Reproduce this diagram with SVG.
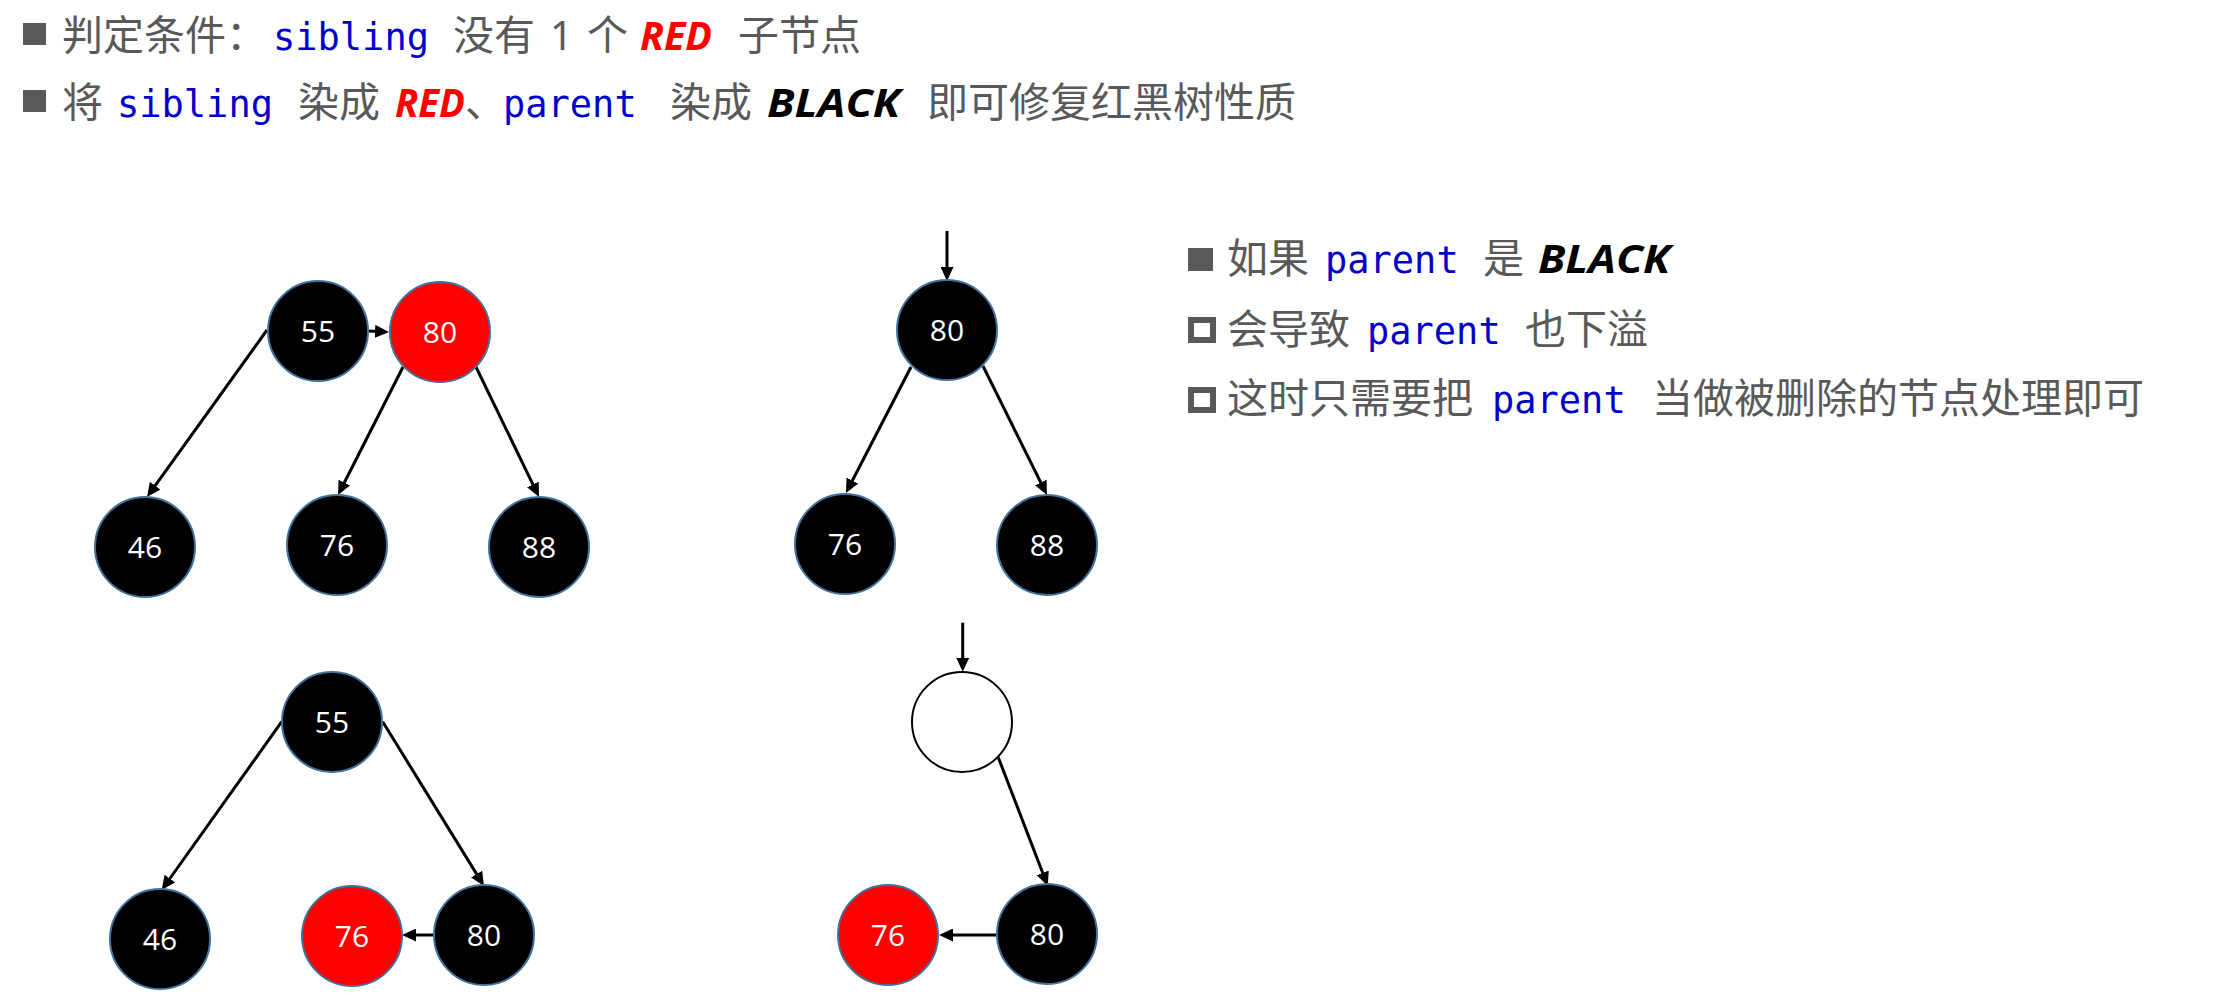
<svg xmlns="http://www.w3.org/2000/svg" width="2214" height="996" viewBox="0 0 2214 996">
<style>
.cjk{font-family:"Noto Sans CJK SC","Noto Sans",sans-serif;font-size:41px;fill:#595959}
.mono{font-family:"DejaVu Sans Mono","Liberation Mono",monospace;font-size:37px;fill:#0000C8}
.kw{font-family:"Open Sans","Noto Sans",sans-serif;font-size:40px;font-weight:bold;font-style:italic}
.num{font-family:"Noto Sans",sans-serif;font-size:40px;fill:#595959}
.bul{fill:#595959}
.hol{fill:none;stroke:#595959;stroke-width:6}
.blk{fill:#000000;stroke:#41719C;stroke-width:2}
.red{fill:#FF0000;stroke:#41719C;stroke-width:2}
.emp{fill:#FFFFFF;stroke:#000000;stroke-width:2}
.lbl{font-family:"Open Sans","Noto Sans",sans-serif;font-size:30px;fill:#FFFFFF;text-anchor:middle}
.edge{stroke:#000000;stroke-width:3;fill:none;marker-end:url(#ah)}
</style>
<defs>
<marker id="ah" viewBox="0 0 14 13" refX="3" refY="6.5" markerWidth="14" markerHeight="13" markerUnits="userSpaceOnUse" orient="auto">
<path d="M0,0 L14,6.5 L0,13 Z" fill="#000000"/>
</marker>
</defs>
<rect width="2214" height="996" fill="#FFFFFF"/>

<g id="header">
<rect class="bul" x="23" y="23" width="23" height="22"/>
<text class="cjk" x="62" y="50">判定条件：</text>
<text class="mono" x="273" y="50">sibling</text>
<text class="cjk" x="453" y="50">没有</text>
<text class="num" x="550" y="50">1</text>
<text class="cjk" x="587" y="50">个</text>
<text class="kw" x="640" y="50" fill="#FF0000" textLength="72" lengthAdjust="spacingAndGlyphs">RED</text>
<text class="cjk" x="738" y="50">子节点</text>

<rect class="bul" x="23" y="90" width="23" height="22"/>
<text class="cjk" x="62" y="117">将</text>
<text class="mono" x="117" y="117">sibling</text>
<text class="cjk" x="298" y="117">染成</text>
<text class="kw" x="395" y="117" fill="#FF0000" textLength="70" lengthAdjust="spacingAndGlyphs">RED</text>
<text class="cjk" x="465" y="117">、</text>
<text class="mono" x="503" y="117">parent</text>
<text class="cjk" x="670" y="117">染成</text>
<text class="kw" x="767" y="117" fill="#000000" textLength="133" lengthAdjust="spacingAndGlyphs">BLACK</text>
<text class="cjk" x="927" y="117">即可修复红黑树性质</text>
</g>

<g id="notes">
<rect class="bul" x="1188" y="248" width="25" height="23"/>
<text class="cjk" x="1227" y="273">如果</text>
<text class="mono" x="1325" y="273">parent</text>
<text class="cjk" x="1483" y="273">是</text>
<text class="kw" x="1538" y="273" fill="#000000" textLength="132" lengthAdjust="spacingAndGlyphs">BLACK</text>

<rect class="hol" x="1191" y="320" width="22" height="20"/>
<text class="cjk" x="1227" y="344">会导致</text>
<text class="mono" x="1367" y="344">parent</text>
<text class="cjk" x="1525" y="344">也下溢</text>

<rect class="hol" x="1191" y="390" width="22" height="20"/>
<text class="cjk" x="1227" y="413">这时只需要把</text>
<text class="mono" x="1492" y="413">parent</text>
<text class="cjk" x="1652" y="413">当做被删除的节点处理即可</text>
</g>

<g id="connectors">
<line class="edge" x1="368" y1="331" x2="378" y2="331.5"/>
<line class="edge" x1="267" y1="330" x2="153.4" y2="488.1"/>
<line class="edge" x1="403" y1="367" x2="343" y2="485.2"/>
<line class="edge" x1="476" y1="367" x2="534.2" y2="487.1"/>

<line class="edge" x1="947" y1="231" x2="947" y2="270"/>
<line class="edge" x1="911" y1="367" x2="851" y2="483.2"/>
<line class="edge" x1="983" y1="366" x2="1042.1" y2="485.1"/>

<line class="edge" x1="281.7" y1="721.7" x2="168.1" y2="881"/>
<line class="edge" x1="382.7" y1="721.7" x2="478.2" y2="876.6"/>
<line class="edge" x1="433" y1="935" x2="413" y2="935"/>

<line class="edge" x1="962.7" y1="622.7" x2="962.7" y2="660.7"/>
<line class="edge" x1="998" y1="756.7" x2="1043.8" y2="875.7"/>
<line class="edge" x1="996.7" y1="935" x2="950" y2="935"/>
</g>

<g id="tl-55"><circle class="blk" cx="318" cy="331" r="50"/><text class="lbl" x="318" y="342">55</text></g>
<g id="tl-80"><circle class="red" cx="440" cy="332" r="50"/><text class="lbl" x="440" y="343">80</text></g>
<g id="tl-46"><circle class="blk" cx="145" cy="547" r="50"/><text class="lbl" x="145" y="558">46</text></g>
<g id="tl-76"><circle class="blk" cx="337" cy="545" r="50"/><text class="lbl" x="337" y="556">76</text></g>
<g id="tl-88"><circle class="blk" cx="539" cy="547" r="50"/><text class="lbl" x="539" y="558">88</text></g>

<g id="tr-80"><circle class="blk" cx="947" cy="330" r="50"/><text class="lbl" x="947" y="341">80</text></g>
<g id="tr-76"><circle class="blk" cx="845" cy="544" r="50"/><text class="lbl" x="845" y="555">76</text></g>
<g id="tr-88"><circle class="blk" cx="1047" cy="545" r="50"/><text class="lbl" x="1047" y="556">88</text></g>

<g id="bl-55"><circle class="blk" cx="332" cy="722" r="50"/><text class="lbl" x="332" y="733">55</text></g>
<g id="bl-46"><circle class="blk" cx="160" cy="939" r="50"/><text class="lbl" x="160" y="950">46</text></g>
<g id="bl-76"><circle class="red" cx="352" cy="936" r="50"/><text class="lbl" x="352" y="947">76</text></g>
<g id="bl-80"><circle class="blk" cx="484" cy="935" r="50"/><text class="lbl" x="484" y="946">80</text></g>

<g id="br-empty"><circle class="emp" cx="962" cy="722" r="50"/></g>
<g id="br-80"><circle class="blk" cx="1047" cy="934" r="50"/><text class="lbl" x="1047" y="945">80</text></g>
<g id="br-76"><circle class="red" cx="888" cy="935" r="50"/><text class="lbl" x="888" y="946">76</text></g>
</svg>
